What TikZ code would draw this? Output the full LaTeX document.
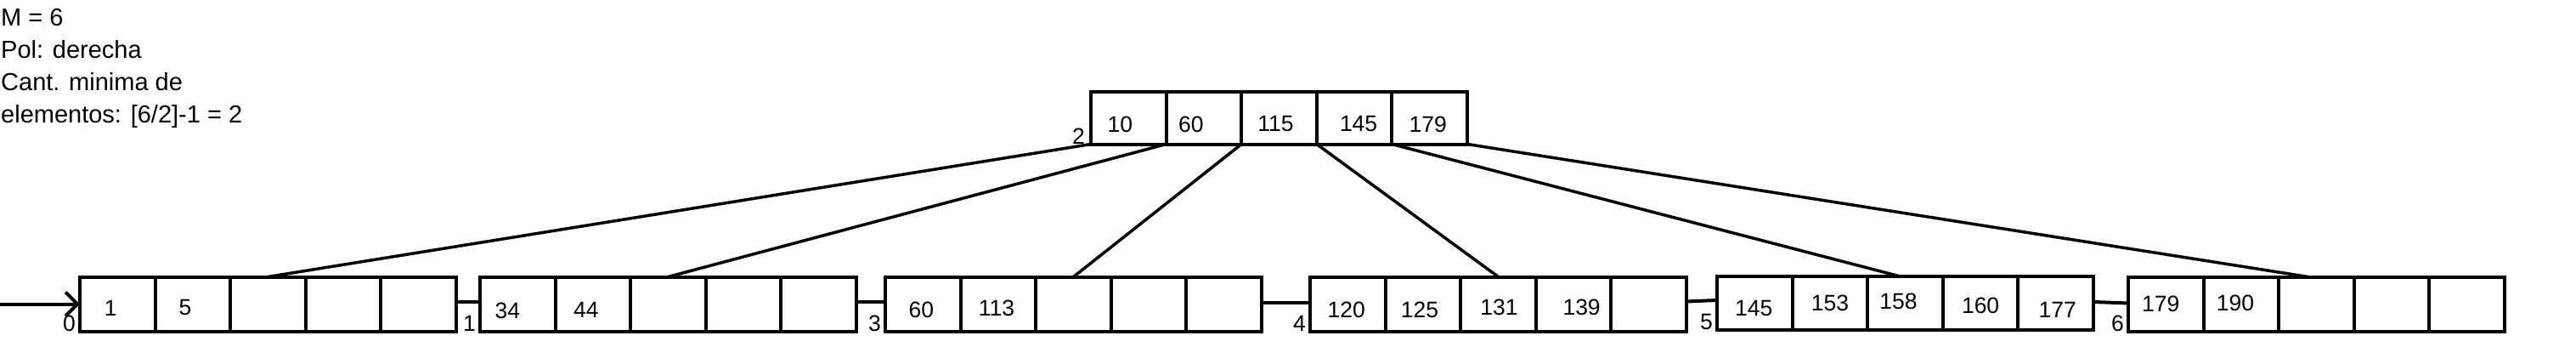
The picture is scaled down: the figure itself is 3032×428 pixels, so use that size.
\documentclass[tikz,border=0pt]{standalone}
\usepackage{fontspec}
\setmainfont{Liberation Sans}
\usetikzlibrary{arrows.meta,calc}
\tikzset{
  box/.style={draw, line width=4pt, inner sep=0pt, outer sep=0pt, minimum width=443pt, anchor=north west},
  key/.style={inner sep=0pt, font=\fontsize{26.5}{30}\selectfont},
  lbl/.style={inner sep=0pt, anchor=south east, font=\fontsize{26.5}{30}\selectfont},
  edge/.style={line width=3.5pt},
  link/.style={line width=4pt},
  divider/.style={line width=4pt},
}
\newcommand\bnode[4]{%
  \node[box, minimum height=#4] (#1) at (#2,#3) {};
  \foreach \i in {0,...,5}{\coordinate (#1-p\i) at ($(#1.south west)!\i/5!(#1.south east)$);}
  \foreach \i in {1,...,4}{\draw[divider] ($(#1.north west)!\i/5!(#1.north east)$) -- (#1-p\i);}
}
\newcommand\bkeys[2]{%
  \foreach \i/\kk/\dx/\dy in {#2}{\node[key] (#1-k\i) at ($(#1.west)+({88.6*(\i-0.5)+(\dx)},{\dy})$) {\kk};}
}
\begin{document}
\begin{tikzpicture}[x=1pt,y=-1pt]
\useasboundingbox (0,0) rectangle (3032,428);
\node[inner sep=0pt, anchor=north west, align=left, font=\fontsize{29}{38}\selectfont] (info) at (1,10)
  {M = 6\\Pol: derecha\\Cant. minima de\\elementos: [6/2]-1 = 2};
% nodes
\bnode{root}{1284}{107.5}{62}
\bnode{l0}{94}{325.5}{64}
\bnode{l1}{565}{325.5}{64}
\bnode{l2}{1042}{325.5}{64}
\bnode{l3}{1542}{325.5}{64}
\bnode{l4}{2021}{324.5}{63}
\bnode{l5}{2505}{325.5}{64}
% keys
\bkeys{root}{1/10/-10/7.5, 2/60/-15/7.5, 3/115/-4/7.5, 4/145/5/7.5, 5/179/-2/7.5}
\bkeys{l0}{1/1/-8/4.5, 2/5/-9/4.5}
\bkeys{l1}{1/34/-12/8, 2/44/-8/7}
\bkeys{l2}{1/60/-2/7, 2/113/-2/5}
\bkeys{l3}{1/120/-1.5/7, 2/125/-4/7, 3/131/1/3.5, 4/139/9.5/3.5}
\bkeys{l4}{1/145/-1/6.5, 2/153/0/0, 3/158/-8/-1.5, 4/160/0/3.5, 5/177/2/8}
\bkeys{l5}{1/179/-6/-0.5, 2/190/-7/-1.5}
% node numbers
\node[lbl] (n0) at ([xshift=-5pt]l0.south west) {0};
\node[lbl] (n1) at ([xshift=-5pt]l1.south west) {1};
\node[lbl] (n2) at ([xshift=-7pt]root.south west) {2};
\node[lbl] (n3) at ([xshift=-5pt]l2.south west) {3};
\node[lbl] (n4) at ([xshift=-5pt]l3.south west) {4};
\node[lbl] (n5) at ([xshift=-5pt]l4.south west) {5};
\node[lbl] (n6) at ([xshift=-5pt]l5.south west) {6};
% pointers
\draw[edge] (root-p0) -- (l0.north);
\draw[edge] (root-p1) -- (l1.north);
\draw[edge] (root-p2) -- (l2.north);
\draw[edge] (root-p3) -- (l3.north);
\draw[edge] (root-p4) -- ([xshift=-8pt]l4.north);
\draw[edge] (root-p5) -- ([xshift=-10pt]l5.north);
% leaf links
\draw[link] ([yshift=3pt]l0.east) -- ([yshift=3pt]l1.west);
\draw[link] ([yshift=3pt]l1.east) -- ([yshift=3pt]l2.west);
\draw[link] ([yshift=2pt]l2.east) -- ([yshift=2pt]l3.west);
\draw[link] ([yshift=3pt]l3.east) -- ([yshift=3pt]l4.west);
\draw[link] ([yshift=1pt]l4.east) -- ([yshift=1pt]l5.west);
% entry arrow
\coordinate (entry) at (0,357.5);
\draw[link, -{Straight Barb[length=14pt,width=28pt]}] (entry) -- (l0.west);
\end{tikzpicture}
\end{document}
